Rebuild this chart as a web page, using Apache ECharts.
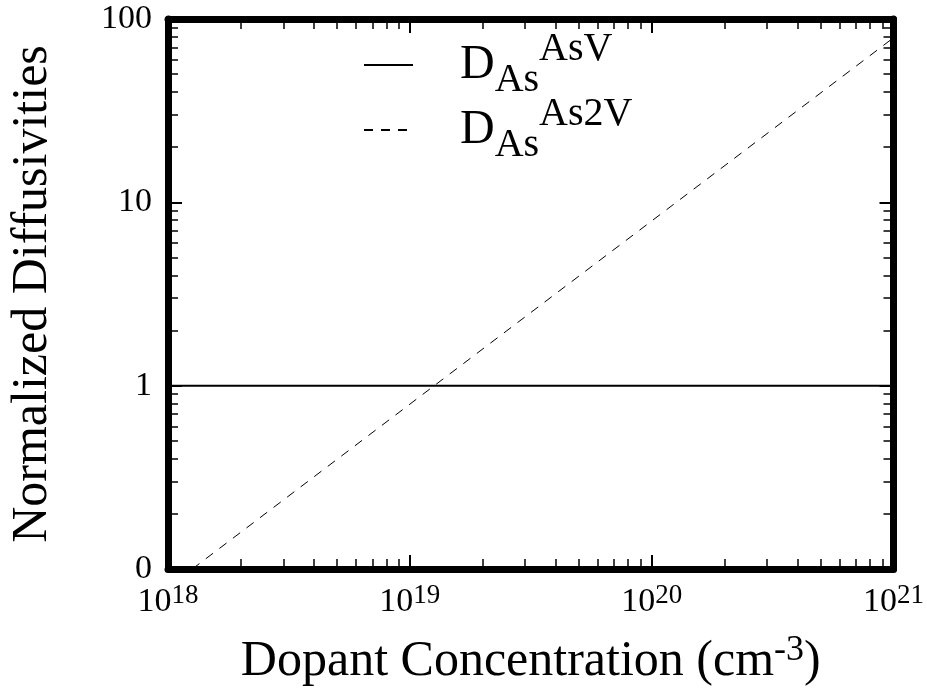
<!DOCTYPE html>
<html>
<head>
<meta charset="utf-8">
<script src="https://cdn.jsdelivr.net/npm/echarts@6/dist/echarts.min.js"></script>
<style>
  html, body { margin: 0; padding: 0; background: #fff; }
  #app { width: 927px; height: 692px; }
</style>
</head>
<body>
<div id="app"></div>
<script>
// dopant concentration (cm^-3) vs normalized diffusivity
var seriesNames = ['AsV', 'As2V'];
var asvPoints = [[1e18, 1], [1e21, 1]];
var as2vPoints = [[1.26e18, 0.1], [1e21, 79]];
var yTickLabels = { '0.1': '0', '1': '1', '10': '10', '100': '100' };

window.onload = function() {
    var myChart = echarts.init(document.getElementById('app'));
    var serif = 'Liberation Serif';
    var black = '#000';

    function expLabel(v) {
        return '10{sup|' + Math.round(Math.log10(v)) + '}';
    }

    function axisCommon(extra) {
        var base = {
            type: 'log',
            logBase: 10,
            axisLine: { show: true, onZero: false, lineStyle: { color: black, width: 7 } },
            axisTick: { show: true, inside: true, length: 14, lineStyle: { color: black, width: 2 } },
            minorTick: { show: true, splitNumber: 9, length: 10, lineStyle: { color: black, width: 1.5 } },
            splitLine: { show: false },
            minorSplitLine: { show: false }
        };
        for (var k in extra) base[k] = extra[k];
        return base;
    }

    var option = {
        animation: false,
        backgroundColor: '#fff',
        grid: { left: 162, right: 29.5, top: 19, bottom: 121.5 },
        legend: {
            orient: 'vertical',
            left: 358,
            top: 24,
            itemWidth: 49,
            itemHeight: 14,
            itemGap: -6,
            selectedMode: false,
            itemStyle: { opacity: 0 },
            data: seriesNames,
            formatter: function(name) {
                return '{b|D}{sub|As}{sup|' + name + '}';
            },
            textStyle: {
                color: black,
                fontFamily: serif,
                rich: {
                    b: { fontSize: 48, fontFamily: serif, color: black, padding: [0, 0, 0, 42] },
                    sub: { fontSize: 40, fontFamily: serif, color: black, padding: [30, 0, 0, 0] },
                    sup: { fontSize: 40, fontFamily: serif, color: black, padding: [0, 0, 32, 0] }
                }
            }
        },
        xAxis: [
            axisCommon({
                position: 'bottom',
                min: 1e18,
                max: 1e21,
                name: 'Dopant Concentration (cm{sup|-3})',
                nameLocation: 'middle',
                nameGap: 64,
                nameTextStyle: {
                    color: black, fontFamily: serif, fontSize: 50,
                    rich: { sup: { fontSize: 36, fontFamily: serif, color: black, padding: [0, 0, 22, 0] } }
                },
                axisLabel: {
                    margin: 13,
                    color: black,
                    fontFamily: serif,
                    fontSize: 34,
                    formatter: expLabel,
                    rich: { sup: { fontSize: 27, fontFamily: serif, color: black, padding: [0, 0, 14, 0] } }
                }
            }),
            axisCommon({
                position: 'top',
                min: 1e18,
                max: 1e21,
                axisLabel: { show: false }
            })
        ],
        yAxis: [
            axisCommon({
                position: 'left',
                min: 0.1,
                max: 100,
                name: 'Normalized Diffusivities',
                nameLocation: 'middle',
                nameGap: 110,
                nameRotate: 90,
                nameTextStyle: { color: black, fontFamily: serif, fontSize: 50 },
                axisLabel: {
                    margin: 16,
                    color: black,
                    fontFamily: serif,
                    fontSize: 34,
                    formatter: function(v) {
                        var key = String(Math.round(v * 10) / 10);
                        return yTickLabels[key] !== undefined ? yTickLabels[key] : '';
                    }
                }
            }),
            axisCommon({
                position: 'right',
                min: 0.1,
                max: 100,
                axisLabel: { show: false }
            })
        ],
        series: [{
            name: seriesNames[0],
            type: 'line',
            data: asvPoints,
            symbol: 'none',
            lineStyle: { color: black, width: 2, type: 'solid' },
            itemStyle: { color: black }
        }, {
            name: seriesNames[1],
            type: 'line',
            data: as2vPoints,
            symbol: 'none',
            lineStyle: { color: black, width: 1, type: [9, 8] },
            itemStyle: { color: black }
        }]
    };
    myChart.setOption(option);
};
</script>
</body>
</html>
